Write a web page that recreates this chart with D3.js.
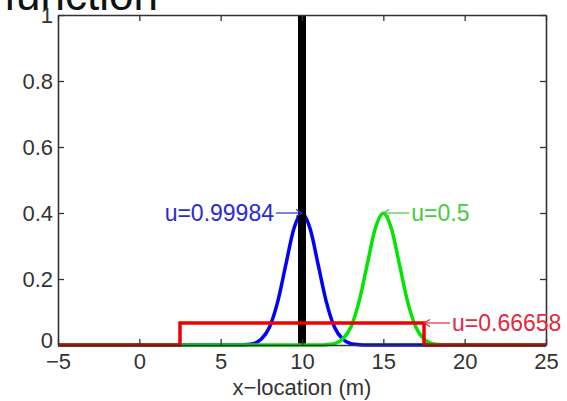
<!DOCTYPE html>
<html>
<head>
<meta charset="utf-8">
<script src="https://cdn.jsdelivr.net/npm/d3@7"></script>
<style>
  body { margin: 0; background: #fff; }
  text { font-family: Arial, "Liberation Sans", Helvetica, sans-serif; }
</style>
</head>
<body>
<svg class="chart"></svg>
<script>

// x ticks / y ticks
var xTicks = [-5, 0, 5, 10, 15, 20, 25];
var yTicks = [0, 0.2, 0.4, 0.6, 0.8, 1];

// blue bump around x=10
var blueX = [-5, 6, 6.5, 7, 7.5, 8, 8.5, 9, 9.5, 10, 10.5, 11, 11.5, 12, 12.5, 13, 13.5, 14, 25];
var blueY = [0, 0, 0.001, 0.004, 0.018, 0.054, 0.13, 0.242, 0.352, 0.399, 0.352, 0.242, 0.13, 0.054, 0.018, 0.004, 0.001, 0, 0];

// green bump around x=15
var greenX = [-5, 11, 11.5, 12, 12.5, 13, 13.5, 14, 14.5, 15, 15.5, 16, 16.5, 17, 17.5, 18, 18.5, 19, 25];
var greenY = [0, 0, 0.001, 0.004, 0.018, 0.054, 0.13, 0.242, 0.352, 0.399, 0.352, 0.242, 0.13, 0.054, 0.018, 0.004, 0.001, 0, 0];

// red box
var redX = [-5, 2.5, 2.5, 17.5, 17.5, 25];
var redY = [0, 0, 0.0667, 0.0667, 0, 0];

// black vertical line at x=10
var blackX = [10, 10];
var blackY = [0, 1];

// annotations, arrow points at (x, y)
var labels = [
  { text: "u=0.99984", x: 10, y: 0.4, side: "left", color: "#2a2ad6" },
  { text: "u=0.5", x: 15, y: 0.4, side: "right", color: "#44cc44" },
  { text: "u=0.66658", x: 17.5, y: 0.0667, side: "right", color: "#e02a40" }
];

var vars = {
  width: 567,
  height: 401,
  left: 58,
  right: 546,
  top: 15,
  bottom: 345,
  fontSize: 22
};

var svg = d3.select(".chart")
  .attr("width", vars.width)
  .attr("height", vars.height);

var xScale = d3.scaleLinear().domain([-5, 25]).range([vars.left, vars.right]);
var yScale = d3.scaleLinear().domain([0, 1]).range([vars.bottom, vars.top]);

// title is cut off at the top of the picture
svg.append("text")
  .attr("x", 158)
  .attr("y", 10)
  .attr("text-anchor", "end")
  .attr("font-size", 44)
  .attr("fill", "#111")
  .text("function");

var toPts = function(xs, ys) {
  return xs.map(function(d, i) { return [d, ys[i]]; });
};

var line = d3.line()
  .x(function(d) { return xScale(d[0]); })
  .y(function(d) { return yScale(d[1]); });

var smooth = d3.line()
  .x(function(d) { return xScale(d[0]); })
  .y(function(d) { return yScale(d[1]); })
  .curve(d3.curveMonotoneX);

svg.append("path")
  .attr("d", smooth(toPts(blueX, blueY)))
  .attr("fill", "none")
  .attr("stroke", "#0000ff")
  .attr("stroke-width", 3.5);

svg.append("path")
  .attr("d", line(toPts(blackX, blackY)))
  .attr("fill", "none")
  .attr("stroke", "#000")
  .attr("stroke-width", 8);

svg.append("path")
  .attr("d", smooth(toPts(greenX, greenY)))
  .attr("fill", "none")
  .attr("stroke", "#00e600")
  .attr("stroke-width", 3.5);

svg.append("path")
  .attr("d", line(toPts(redX, redY)))
  .attr("fill", "none")
  .attr("stroke", "#ee0000")
  .attr("stroke-width", 3.5);

// axes, matlab style box with ticks inside
var xAxisB = d3.axisBottom(xScale).tickValues(xTicks).tickSizeInner(-6).tickSizeOuter(0).tickPadding(8)
  .tickFormat(function(d) { return d < 0 ? "\u2212" + Math.abs(d) : d; });
var xAxisT = d3.axisTop(xScale).tickValues(xTicks).tickSizeInner(-6).tickSizeOuter(0).tickFormat("");
var yAxisL = d3.axisLeft(yScale).tickValues(yTicks).tickSizeInner(-6).tickSizeOuter(0).tickPadding(5)
  .tickFormat(function(d) { return d; });
var yAxisR = d3.axisRight(yScale).tickValues(yTicks).tickSizeInner(-6).tickSizeOuter(0).tickFormat("");

svg.append("g").attr("transform", `translate(0, ${vars.bottom})`).call(xAxisB);
svg.append("g").attr("transform", `translate(0, ${vars.top})`).call(xAxisT);
var gy = svg.append("g").attr("transform", `translate(${vars.left}, 0)`).call(yAxisL);
svg.append("g").attr("transform", `translate(${vars.right}, 0)`).call(yAxisR);

svg.selectAll(".domain").attr("stroke", "#333").attr("stroke-width", 1.6);
svg.selectAll(".tick line").attr("stroke", "#333").attr("stroke-width", 1.3);
svg.selectAll(".tick text")
  .attr("font-size", vars.fontSize)
  .attr("fill", "#333")
  .attr("font-family", "Arial, 'Liberation Sans', sans-serif");

// the 0 on the y axis sits a bit higher in the original
gy.selectAll(".tick text").filter(function(d) { return d == 0; }).attr("dy", "0.1em");

svg.append("text")
  .attr("x", xScale(10))
  .attr("y", 395)
  .attr("text-anchor", "middle")
  .attr("font-size", vars.fontSize)
  .attr("fill", "#333")
  .text("x\u2212location (m)");

// annotation arrows
labels.forEach(function(l) {
  var px = xScale(l.x);
  var py = yScale(l.y);
  var dir = l.side == "left" ? -1 : 1;
  var tail = px + dir * 26;
  var g = svg.append("g");
  g.append("line")
    .attr("x1", px).attr("y1", py)
    .attr("x2", tail).attr("y2", py)
    .attr("stroke", l.color).attr("stroke-width", 1.2);
  g.append("path")
    .attr("d", `M${px + dir * 6},${py - 3.5} L${px},${py} L${px + dir * 6},${py + 3.5}`)
    .attr("fill", "none")
    .attr("stroke", l.color).attr("stroke-width", 1.2);
  g.append("text")
    .attr("x", tail + dir * 2)
    .attr("y", py)
    .attr("dy", "0.35em")
    .attr("text-anchor", l.side == "left" ? "end" : "start")
    .attr("font-size", 23)
    .attr("fill", l.color)
    .text(l.text);
});

</script>
</body>
</html>
